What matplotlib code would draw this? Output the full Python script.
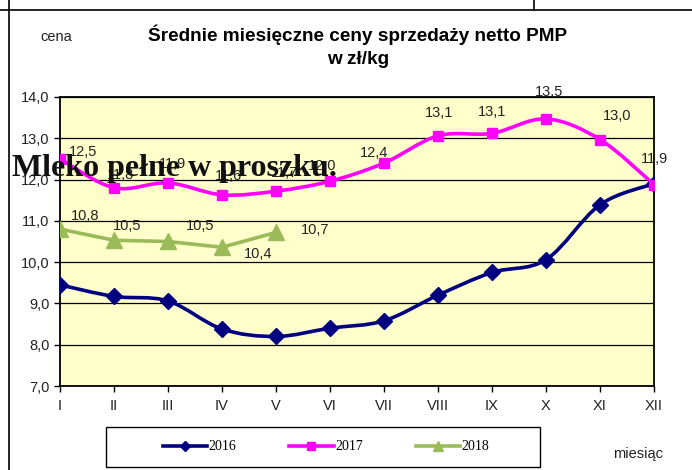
import matplotlib
matplotlib.use("Agg")
import matplotlib.pyplot as plt
from matplotlib.path import Path
from matplotlib.patches import PathPatch, Rectangle
from matplotlib.lines import Line2D

months = ["I", "II", "III", "IV", "V", "VI", "VII", "VIII", "IX", "X", "XI", "XII"]
ceny_2016 = [9.45, 9.17, 9.06, 8.38, 8.2, 8.4, 8.58, 9.2, 9.75, 10.06, 11.39, 11.9]
ceny_2017 = [12.5, 11.8, 11.92, 11.63, 11.72, 11.96, 12.4, 13.06, 13.12, 13.47, 12.97, 11.88]
ceny_2018 = [10.8, 10.53, 10.5, 10.36, 10.72]

# label offsets in pixels (dx, dy)
off_2017 = [(23, 7), (7, 13), (5, 19), (6, 19), (9, 18), (-8, 15),
            (-10, 10), (1, 23), (0, 21), (3, 27), (17, 24), (0, 26)]
off_2018 = [(25, 13), (13, 14), (32, 15), (36, -7), (39, 2)]

NAVY = "#000080"
MAGENTA = "#FF00FF"
GREEN = "#9BBB59"
SANS = ["Liberation Sans", "DejaVu Sans"]


def smooth_path(xs, ys):
    # excel-like smoothed line as cubic bezier
    pts = list(zip(xs, ys))
    n = len(pts)
    verts = [pts[0]]
    codes = [Path.MOVETO]
    for i in range(n - 1):
        p0 = pts[i - 1] if i > 0 else pts[i]
        p1 = pts[i]
        p2 = pts[i + 1]
        p3 = pts[i + 2] if i + 2 < n else pts[i + 1]
        c1 = (p1[0] + (p2[0] - p0[0]) / 6, p1[1] + (p2[1] - p0[1]) / 6)
        c2 = (p2[0] - (p3[0] - p1[0]) / 6, p2[1] - (p3[1] - p1[1]) / 6)
        verts += [c1, c2, p2]
        codes += [Path.CURVE4] * 3
    return Path(verts, codes)


fig = plt.figure(figsize=(6.92, 4.70), dpi=100)
W, H = 692, 470
ax = fig.add_axes([60 / W, (H - 386) / H, 594 / W, 289 / H])
ax.set_facecolor("#FFFFCC")

x = list(range(len(months)))

# 2016
ax.add_patch(PathPatch(smooth_path(x, ceny_2016), fill=False, edgecolor=NAVY, lw=2.6, zorder=3))
ax.plot(x, ceny_2016, ls="none", marker="D", ms=8, color=NAVY, zorder=4)

# 2017
ax.add_patch(PathPatch(smooth_path(x, ceny_2017), fill=False, edgecolor=MAGENTA, lw=2.6, zorder=3))
ax.plot(x, ceny_2017, ls="none", marker="s", ms=7.5, color=MAGENTA, zorder=4)

# 2018
ax.plot(x[:len(ceny_2018)], ceny_2018, color=GREEN, lw=2.6, marker="^", ms=11, zorder=4)

for i, v in enumerate(ceny_2017):
    ax.annotate(f"{v:.1f}".replace(".", ","), (x[i], v), xytext=off_2017[i],
                textcoords="offset pixels", ha="center", va="center",
                fontsize=10.5, family=SANS, color="#222222", zorder=5,
                annotation_clip=False)
for i, v in enumerate(ceny_2018):
    ax.annotate(f"{v:.1f}".replace(".", ","), (x[i], v), xytext=off_2018[i],
                textcoords="offset pixels", ha="center", va="center",
                fontsize=10.5, family=SANS, color="#222222", zorder=5,
                annotation_clip=False)

ax.set_xlim(0, 11)
ax.set_ylim(7, 14)
ax.set_xticks(x)
ax.set_xticklabels(months)
ax.set_yticks(range(7, 15))
ax.set_yticklabels([f"{v},0" for v in range(7, 15)])
ax.yaxis.grid(True, color="black", lw=0.9)
ax.set_axisbelow(True)
ax.tick_params(direction="out", length=4, width=1, colors="black", labelsize=10.5,
               labelcolor="#222222")
ax.tick_params(axis="x", pad=5)
for lab in ax.get_xticklabels() + ax.get_yticklabels():
    lab.set_family(SANS)
for s in ax.spines.values():
    s.set_linewidth(1.3)
    s.set_color("black")

# title and axis names
TITLE_FONT = ["Liberation Sans Narrow", "Liberation Sans", "DejaVu Sans"]
fig.text(358 / W, 1 - 35 / H, "Średnie miesięczne ceny sprzedaży netto PMP",
         ha="center", va="center", fontsize=13.7, fontweight="bold", family=TITLE_FONT)
fig.text(358 / W, 1 - 59 / H, "w zł/kg", ha="center", va="center", fontsize=13.7,
         fontweight="bold", family=TITLE_FONT)
fig.text(56 / W, 1 - 37 / H, "cena", ha="center", va="center", fontsize=10.5,
         family=SANS, color="#222222")
fig.text(638 / W, 1 - 454 / H, "miesiąc", ha="center", va="center", fontsize=10.5,
         family=SANS, color="#222222")

# legend (frame drawn separately)
handles = [Line2D([], [], color=NAVY, lw=2.6, marker="D", ms=5),
           Line2D([], [], color=MAGENTA, lw=2.6, marker="s", ms=6),
           Line2D([], [], color=GREEN, lw=2.6, marker="^", ms=7)]
fig.legend(handles, ["2016", "2017", "2018"], loc="center",
           bbox_to_anchor=(326 / W, 1 - 447 / H), ncol=3, frameon=False,
           handlelength=3.2, handletextpad=0.1, columnspacing=3.8,
           borderpad=0, borderaxespad=0,
           prop={"family": ["Liberation Serif", "DejaVu Serif"], "size": 10})
fig.add_artist(Rectangle((106 / W, 1 - 467 / H), 434 / W, 40 / H, fill=False,
                         edgecolor="black", lw=1.0, transform=fig.transFigure))

# frame lines of the page
fig.add_artist(Line2D([0, 1], [1 - 10 / H, 1 - 10 / H], color="black", lw=1.2))
fig.add_artist(Line2D([9 / W, 9 / W], [0, 1], color="black", lw=1.2))
fig.add_artist(Line2D([534 / W, 534 / W], [1 - 10 / H, 1], color="black", lw=1.2))

# overlay caption
fig.text(12 / W, 1 - 168 / H, "Mleko pełne w proszku.", ha="left", va="center",
         fontsize=23, fontweight="bold", family=["Liberation Serif", "DejaVu Serif"],
         color="#111111", zorder=10)

fig.savefig("out.png", dpi=100)
